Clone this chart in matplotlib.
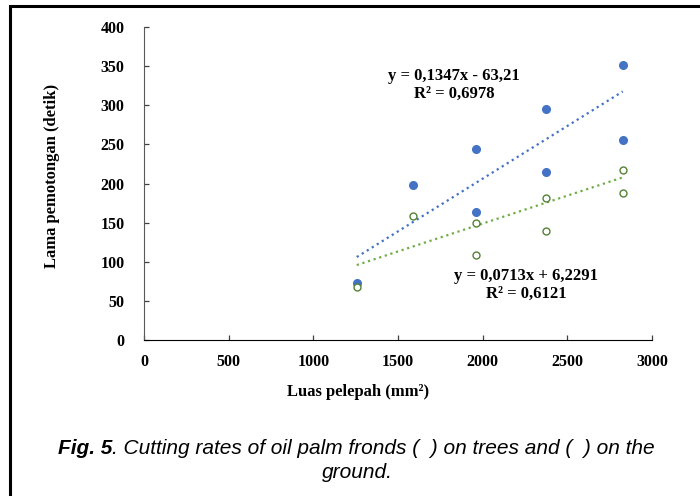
import numpy as np
import matplotlib
matplotlib.use('Agg')
import matplotlib.pyplot as plt
from matplotlib.patches import Rectangle

# Frond area (mm2) and cutting time (s).
luas_pohon = [1256.6, 1590.4, 1963.5, 1963.5, 2375.8, 2375.8, 2827.4, 2827.4]
waktu_pohon = [73, 198, 244, 163, 295, 215, 352, 256]
luas_tanah = [1256.6, 1590.4, 1963.5, 1963.5, 2375.8, 2375.8, 2827.4, 2827.4]
waktu_tanah = [68, 158, 150, 109, 182, 139, 217, 188]

# Trendline coefficients as printed on the chart.
koef_pohon = (0.1347, -63.21)
koef_tanah = (0.0713, 6.2291)
label_pohon = 'y = 0,1347x - 63,21\nR² = 0,6978'
label_tanah = 'y = 0,0713x + 6,2291\nR² = 0,6121'

xticks = [0, 500, 1000, 1500, 2000, 2500, 3000]
yticks = [0, 50, 100, 150, 200, 250, 300, 350, 400]

serif = 'Liberation Serif'
biru = '#4472C4'
hijau_garis = '#70AD47'
hijau_titik = '#548235'

fig = plt.figure(figsize=(7, 4.96), dpi=100)
ax = fig.add_axes([0.2057, 0.3145, 0.7257, 0.631])

# Trendlines over the data range.
xl = np.array([min(luas_pohon), max(luas_pohon)])
ax.plot(xl, koef_pohon[0] * xl + koef_pohon[1], ls=':', color=biru, lw=1.6)
xl2 = np.array([min(luas_tanah), max(luas_tanah)])
ax.plot(xl2, koef_tanah[0] * xl2 + koef_tanah[1], ls=':', color=hijau_garis, lw=1.6)

ax.plot(luas_pohon, waktu_pohon, 'o', ms=5.5, color=biru, ls='none', zorder=3)
ax.plot(luas_tanah, waktu_tanah, 'o', ms=5, mfc='white', mec=hijau_titik, mew=1.0,
        ls='none', zorder=3)

ax.text(1830, 326, label_pohon, ha='center', va='center', fontsize=12,
        fontweight='bold', family=serif, linespacing=1.15)
ax.text(2255, 70, label_tanah, ha='center', va='center', fontsize=12,
        fontweight='bold', family=serif, linespacing=1.15)

ax.set_xlim(0, 3000)
ax.set_ylim(0, 400)
ax.set_xticks(xticks)
ax.set_yticks(yticks)
ax.set_xticklabels([str(v) for v in xticks], family=serif, fontweight='bold', fontsize=11.5)
ax.set_yticklabels([str(v) for v in yticks], family=serif, fontweight='bold', fontsize=11.5)
ax.tick_params(direction='in', length=3.5, width=0.9, color='#404040', pad=10)
ax.tick_params(axis='y', pad=14)
for s in ['top', 'right']:
    ax.spines[s].set_visible(False)
ax.spines['left'].set_color('#595959')
ax.spines['bottom'].set_color('black')

fig.text(0.074, 0.645, 'Lama pemotongan (detik)', rotation=90, ha='center', va='center',
         family=serif, fontweight='bold', fontsize=12)
fig.text(0.511, 1 - 392 / 496, 'Luas pelepah (mm²)', ha='center', va='center',
         family=serif, fontweight='bold', fontsize=12)

# Caption with bold "Fig. 5"
fig.canvas.draw()
r = fig.canvas.get_renderer()
cap_y = 1 - 449 / 496
t1 = fig.text(0, cap_y, 'Fig. 5', family='Liberation Sans', style='italic',
              fontweight='bold', fontsize=15, va='center')
t2 = fig.text(0, cap_y, '. Cutting rates of oil palm fronds (  ) on trees and (  ) on the',
              family='Liberation Sans', style='italic', fontsize=15, va='center')
w1 = t1.get_window_extent(r).width / fig.bbox.width
w2 = t2.get_window_extent(r).width / fig.bbox.width
x0 = 0.509 - (w1 + w2) / 2
t1.set_x(x0)
t2.set_x(x0 + w1)
fig.text(0.511, 1 - 472 / 496, 'ground.', family='Liberation Sans', style='italic',
         fontsize=15, ha='center', va='center')

# Frame around the figure (right and bottom edges fall outside the image)
fig.patches.append(Rectangle((10 / 700, -0.1), 1.2, 1 - 6 / 496 + 0.1,
                             transform=fig.transFigure, fill=False, lw=2.2,
                             edgecolor='black', figure=fig))

fig.savefig('out.png', dpi=100)
